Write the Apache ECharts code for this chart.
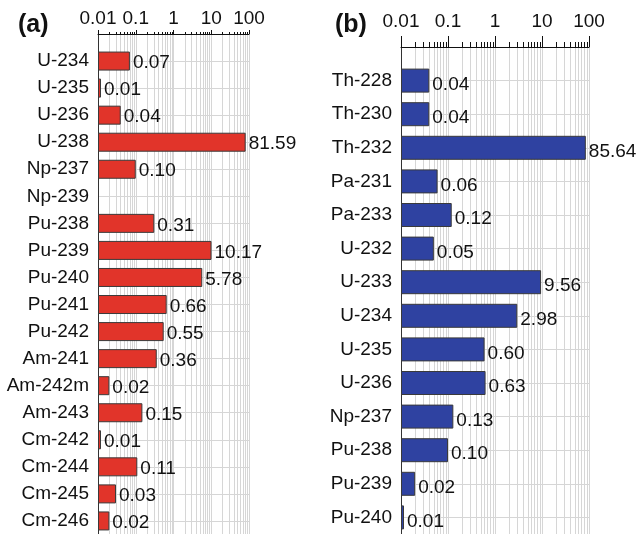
<!DOCTYPE html>
<html>
<head>
<meta charset="utf-8">
<script src="https://cdn.jsdelivr.net/npm/echarts@6/dist/echarts.min.js"></script>
<style>
  html, body { margin: 0; padding: 0; background: #fff; }
  #chart { width: 636px; height: 534px; }
</style>
</head>
<body>
<div id="chart"></div>
<script>
// Panel (a): nuclide shares, percent
const nuclidesA = ['U-234', 'U-235', 'U-236', 'U-238', 'Np-237', 'Np-239', 'Pu-238', 'Pu-239', 'Pu-240',
  'Pu-241', 'Pu-242', 'Am-241', 'Am-242m', 'Am-243', 'Cm-242', 'Cm-244', 'Cm-245', 'Cm-246'];
const sharesA = [0.07, 0.01, 0.04, 81.59, 0.10, null, 0.31, 10.17, 5.78,
  0.66, 0.55, 0.36, 0.02, 0.15, 0.01, 0.11, 0.03, 0.02];

// Panel (b): nuclide shares, percent
const nuclidesB = ['Th-228', 'Th-230', 'Th-232', 'Pa-231', 'Pa-233', 'U-232', 'U-233', 'U-234', 'U-235',
  'U-236', 'Np-237', 'Pu-238', 'Pu-239', 'Pu-240'];
const sharesB = [0.04, 0.04, 85.64, 0.06, 0.12, 0.05, 9.56, 2.98, 0.60,
  0.63, 0.13, 0.10, 0.02, 0.01];

// Log axis ticks: labelled decades and unlabelled 2..9 subdivisions
const decadeTicks = [0.01, 0.1, 1, 10, 100];
const minorTicks = [];
for (let d = 0; d < decadeTicks.length - 1; d++) {
  for (let m = 2; m <= 9; m++) minorTicks.push(+(decadeTicks[d] * m).toPrecision(3));
}

const FONT = 'Liberation Sans, Arial, Helvetica, sans-serif';
const GRID_COLOR = '#d6d6d6';

const panels = [
  { title: '(a)', names: nuclidesA, values: sharesA, color: '#e1342a',
    grid: { left: 98, top: 34, width: 151, height: 514 },
    majorLen: 4, minorLen: 2, labelMargin: 6, barWidth: 19, labelOffset: 2, titleLeft: 13 },
  { title: '(b)', names: nuclidesB, values: sharesB, color: '#2f42a1',
    grid: { left: 401, top: 47, width: 188, height: 504 },
    majorLen: 11, minorLen: 5, labelMargin: 16, barWidth: 24, labelOffset: 4, titleLeft: 330 }
];

const option = {
  animation: false,
  backgroundColor: '#fff',
  textStyle: { fontFamily: FONT },
  title: [], grid: [], xAxis: [], yAxis: [], series: []
};

panels.forEach((p, i) => {
  option.title.push({
    text: p.title, left: p.titleLeft, top: 8,
    textStyle: { fontFamily: FONT, fontSize: 25, fontWeight: 'bold', color: '#111' }
  });
  option.grid.push(Object.assign({ containLabel: false, outerBoundsMode: 'none' }, p.grid));

  // labelled decade axis
  option.xAxis.push({
    type: 'log', gridIndex: i, position: 'top', min: 0.01, max: 100, startValue: 0.01,
    axisLine: { show: true, lineStyle: { color: '#111', width: 1 } },
    axisTick: { show: true, customValues: decadeTicks, length: p.majorLen, lineStyle: { color: '#111' } },
    axisLabel: { show: true, customValues: decadeTicks, fontSize: 19, color: '#111', margin: p.labelMargin,
      fontFamily: FONT, formatter: v => String(v) },
    splitLine: { show: true, lineStyle: { color: GRID_COLOR, width: 1 } }
  });
  // unlabelled 2..9 subdivisions
  option.xAxis.push({
    type: 'log', gridIndex: i, position: 'top', min: 0.01, max: 100,
    axisLine: { show: false },
    axisTick: { show: true, customValues: minorTicks, length: p.minorLen, lineStyle: { color: '#111' } },
    axisLabel: { show: false },
    splitLine: { show: true, lineStyle: { color: GRID_COLOR, width: 1 } }
  });

  option.yAxis.push({
    type: 'category', gridIndex: i, inverse: true, boundaryGap: false,
    data: [''].concat(p.names, [' ']),
    axisLine: { show: true, lineStyle: { color: '#333', width: 1 } },
    axisTick: { show: false },
    axisLabel: { interval: 0, fontSize: 19, color: '#111', margin: 9, fontFamily: FONT },
    splitLine: { show: true, lineStyle: { color: GRID_COLOR, width: 1 } }
  });

  option.series.push({
    type: 'bar', xAxisIndex: i * 2, yAxisIndex: i, clip: false,
    data: [null].concat(p.values, [null]),
    barWidth: p.barWidth, barMinHeight: 3,
    itemStyle: { color: p.color, borderColor: '#3a3a3a', borderWidth: 1 },
    label: {
      show: true, position: 'right', distance: 3, offset: [0, p.labelOffset],
      fontSize: 19, color: '#111', fontFamily: FONT,
      formatter: d => (d.value == null ? '' : Number(d.value).toFixed(2))
    },
    z: 3
  });
});

const chart = echarts.init(document.getElementById('chart'), null, { renderer: 'canvas' });
chart.setOption(option);
</script>
</body>
</html>
